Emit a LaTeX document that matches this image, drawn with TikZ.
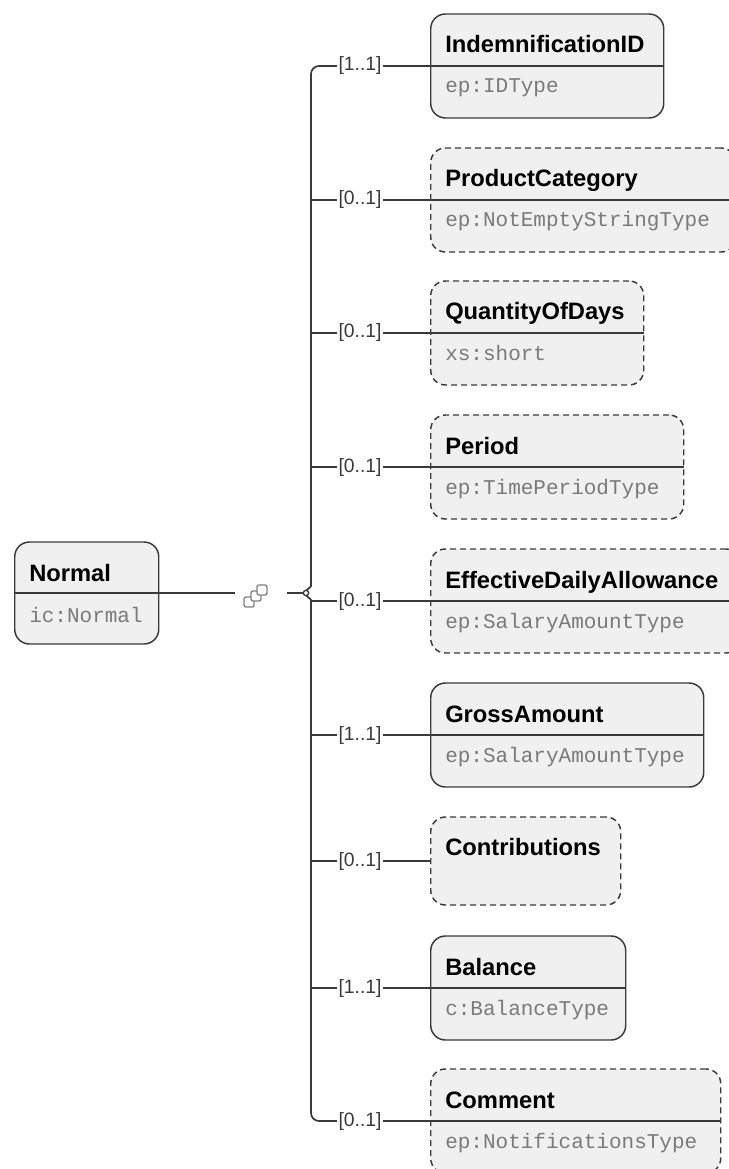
\documentclass[tikz,border=0pt]{standalone}
\usepackage{fontspec}
\setmainfont{Liberation Sans}
\setmonofont{Liberation Mono}
\usetikzlibrary{positioning}
\definecolor{boxfill}{HTML}{F0F0F0}
\definecolor{boxline}{HTML}{3A3A3A}
\definecolor{typegray}{HTML}{7A7A7A}
\tikzset {
    style Req/.style={
        fill=boxfill,
        draw=boxline,
        line width=1.1pt,
        rectangle, % Set the shape as a rectangle
        rounded corners=11pt,
        inner sep=0pt,
        minimum height=78pt,
        anchor=west,
    },
    style Opt/.style={
        style Req,
        dash pattern=on 4.5pt off 3pt,
    },
    style Name/.style={
        font=\fontsize{17.8}{20}\selectfont\bfseries,
        inner sep=0pt,
        anchor=base west,
    },
    style Type/.style={
        font=\fontsize{15.75}{18}\selectfont\ttfamily,
        text=typegray,
        inner sep=0pt,
        anchor=base west,
    },
    style Mult/.style={
        font=\fontsize{14.5}{16}\selectfont,
        text=boxline,
        inner sep=1pt,
    },
    style Line/.style={
        draw=boxline,
        line width=1pt,
    },
    style Seq/.style={
        fill=white,
        draw=gray,
        line width=1pt,
        rounded corners=1.5pt,
        minimum size=7.5pt,
        inner sep=0pt,
    },
}

\begin{document}
\begin{tikzpicture}[x=0.75pt, y=-0.75pt]
    \useasboundingbox (0,0) rectangle (728,1169);

    % root element
    \node[style Req, minimum width=108pt, minimum height=76.5pt] (n) at (14,593) {};
    \draw[style Line] (n.west) -- (n.east);
    \node[style Name] (nn) at ([shift={(15,-12)}]n.west) {Normal};
    \node[style Type] (nt) at ([shift={(15,29)}]n.west) {ic:Normal};

    % sequence compositor
    \node[minimum width=39pt, minimum height=20pt, inner sep=0pt] (ic) at (261,593) {};
    \node[style Seq] (s1) at ([shift={(-12,9)}]ic.center) {};
    \node[style Seq] (s2) at ([shift={(-5,3)}]ic.center) {};
    \node[style Seq] (s3) at ([shift={(1,-3)}]ic.center) {};
    \coordinate (br) at (306,593);
    \coordinate (bu) at (311,578);
    \coordinate (bd) at (311,608);
    \draw[style Line] (n.east) -- (ic.west);
    \draw[style Line] (ic.east) -- (br);

    % child elements
    \node[style Req, minimum width=174.75pt] (e1) at (430,66) {};
    \node[style Opt, minimum width=228.75pt] (e2) at (430,200) {};
    \node[style Opt, minimum width=159.75pt] (e3) at (430,333) {};
    \node[style Opt, minimum width=189.75pt] (e4) at (430,467) {};
    \node[style Opt, minimum width=232.5pt] (e5) at (430,601) {};
    \node[style Req, minimum width=204.75pt] (e6) at (430,735) {};
    \node[style Opt, minimum width=142.5pt, minimum height=66pt] (e7) at (430,861) {};
    \node[style Req, minimum width=146.25pt] (e8) at (430,988) {};
    \node[style Opt, minimum width=217.5pt] (e9) at (430,1121) {};
    \foreach \i in {1,...,6,8,9}
        \draw[style Line] (e\i.west) -- (e\i.east);

    \node[style Name] (t1) at ([shift={(15,-13)}]e1.west) {IndemnificationID};
    \node[style Type] (y1) at ([shift={(15,27)}]e1.west) {ep:IDType};
    \node[style Name] (t2) at ([shift={(15,-13)}]e2.west) {ProductCategory};
    \node[style Type] (y2) at ([shift={(15,27)}]e2.west) {ep:NotEmptyStringType};
    \node[style Name] (t3) at ([shift={(15,-13)}]e3.west) {QuantityOfDays};
    \node[style Type] (y3) at ([shift={(15,27)}]e3.west) {xs:short};
    \node[style Name] (t4) at ([shift={(15,-13)}]e4.west) {Period};
    \node[style Type] (y4) at ([shift={(15,27)}]e4.west) {ep:TimePeriodType};
    \node[style Name] (t5) at ([shift={(15,-13)}]e5.west) {EffectiveDailyAllowance};
    \node[style Type] (y5) at ([shift={(15,27)}]e5.west) {ep:SalaryAmountType};
    \node[style Name] (t6) at ([shift={(15,-13)}]e6.west) {GrossAmount};
    \node[style Type] (y6) at ([shift={(15,27)}]e6.west) {ep:SalaryAmountType};
    \node[style Name] (t7) at ([shift={(15,-6)}]e7.west) {Contributions};
    \node[style Name] (t8) at ([shift={(15,-13)}]e8.west) {Balance};
    \node[style Type] (y8) at ([shift={(15,27)}]e8.west) {c:BalanceType};
    \node[style Name] (t9) at ([shift={(15,-13)}]e9.west) {Comment};
    \node[style Type] (y9) at ([shift={(15,27)}]e9.west) {ep:NotificationsType};

    % multiplicities
    \node[style Mult] (m1) at (360,66) {[1..1]};
    \node[style Mult] (m2) at (360,200) {[0..1]};
    \node[style Mult] (m3) at (360,333) {[0..1]};
    \node[style Mult] (m4) at (360,467) {[0..1]};
    \node[style Mult] (m5) at (360,601) {[0..1]};
    \node[style Mult] (m6) at (360,735) {[1..1]};
    \node[style Mult] (m7) at (360,861) {[0..1]};
    \node[style Mult] (m8) at (360,988) {[1..1]};
    \node[style Mult] (m9) at (360,1121) {[0..1]};
    \foreach \i in {1,...,9}
        \draw[style Line] (m\i.east) -- (e\i.west);

    % brace
    \draw[style Line, line width=1.3pt, rounded corners=6pt] (m1.west) -| (bu)
        .. controls (311,588) and (306,588) .. (br);
    \draw[style Line, line width=1.3pt, rounded corners=6pt] (m9.west) -| (bd)
        .. controls (311,598) and (306,598) .. (br);
    \foreach \i in {2,...,8}
        \draw[style Line] (m\i.west) -- (m\i.west -| bu);
    \draw[style Line, fill=white] (br) circle (2pt);
\end{tikzpicture}
\end{document}
